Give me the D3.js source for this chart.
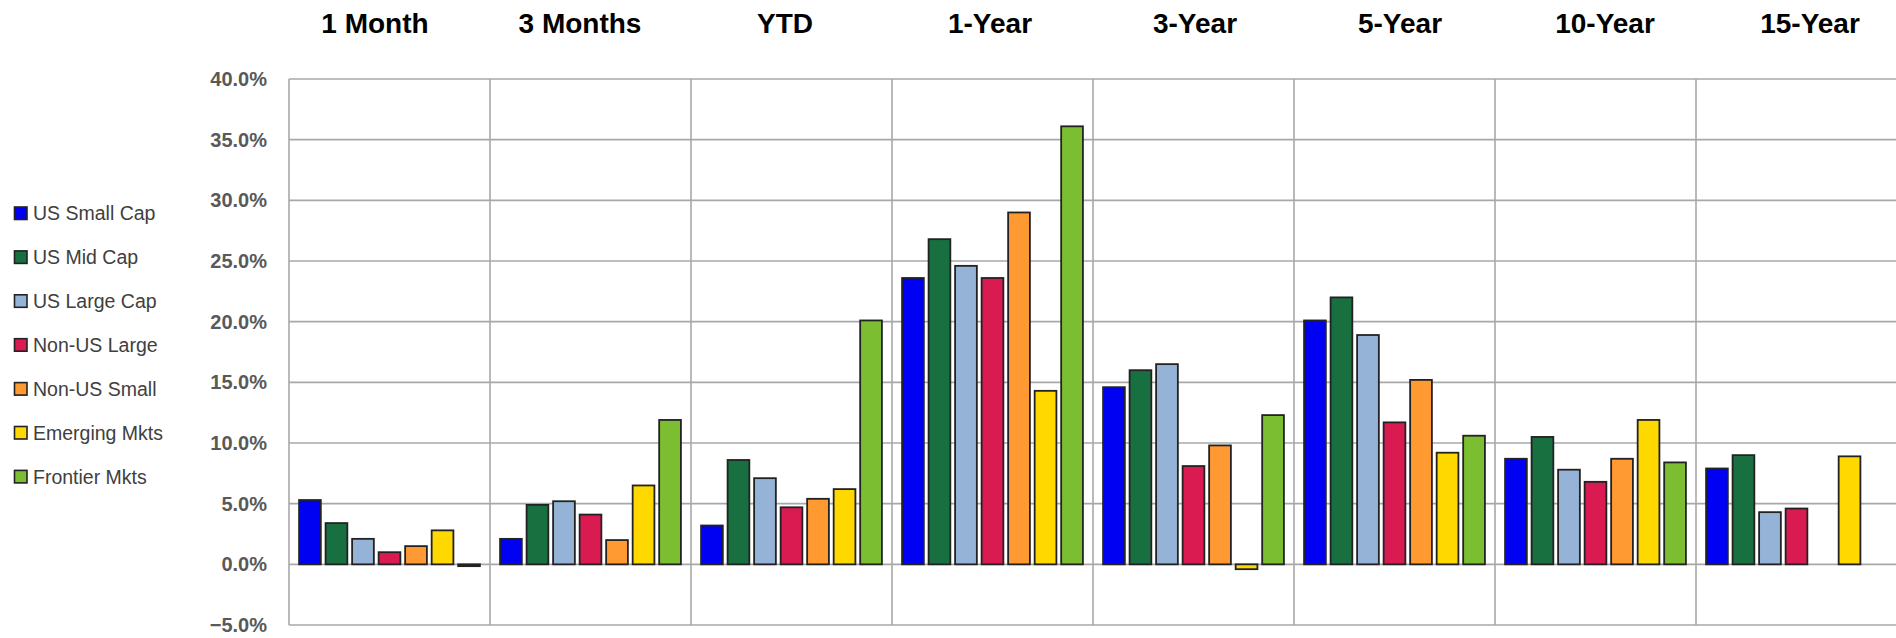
<!DOCTYPE html>
<html>
<head>
<meta charset="utf-8">
<script src="https://cdn.jsdelivr.net/npm/d3@7"></script>
<style>
  html, body { margin: 0; padding: 0; background: #ffffff; }
  svg { display: block; }
</style>
</head>
<body>
<svg id="chart" width="1896" height="638"></svg>
<script>
// ---- data ----
const categories = ["1 Month", "3 Months", "YTD", "1-Year", "3-Year", "5-Year", "10-Year", "15-Year"];
const seriesNames = ["US Small Cap", "US Mid Cap", "US Large Cap", "Non-US Large", "Non-US Small", "Emerging Mkts", "Frontier Mkts"];
const usSmallCap   = [5.3, 2.1, 3.2, 23.6, 14.6, 20.1, 8.7, 7.9];
const usMidCap     = [3.4, 4.9, 8.6, 26.8, 16.0, 22.0, 10.5, 9.0];
const usLargeCap   = [2.1, 5.2, 7.1, 24.6, 16.5, 18.9, 7.8, 4.3];
const nonUSLarge   = [1.0, 4.1, 4.7, 23.6, 8.1, 11.7, 6.8, 4.6];
const nonUSSmall   = [1.5, 2.0, 5.4, 29.0, 9.8, 15.2, 8.7, null];
const emergingMkts = [2.8, 6.5, 6.2, 14.3, -0.4, 9.2, 11.9, 8.9];
const frontierMkts = [-0.15, 11.9, 20.1, 36.1, 12.3, 10.6, 8.4, null];
const yTicks = [-5, 0, 5, 10, 15, 20, 25, 30, 35, 40];
const seriesColors = ["#0000f2", "#186f40", "#95b3d7", "#d91b52", "#ff9a33", "#ffd800", "#7cbe31"];

const seriesValues = [usSmallCap, usMidCap, usLargeCap, nonUSLarge, nonUSSmall, emergingMkts, frontierMkts];

// ---- layout ----
const svg = d3.select("#chart");
const plotLeft = 289, plotRight = 1897, plotTop = 79, plotBottom = 625;

const y = d3.scaleLinear().domain([-5, 40]).range([plotBottom, plotTop]);
const x0 = d3.scaleBand().domain(categories).range([plotLeft, plotRight]).padding(0);
const x1 = d3.scaleBand().domain(seriesNames).range([0, x0.bandwidth()])
  .paddingInner(0.18).paddingOuter(0.38);
const titleX = d3.scaleBand().domain(categories).range([272.5, 272.5 + 205 * categories.length]);

const gridColor = "#a8a8a8";

// horizontal gridlines
svg.append("g").selectAll("line").data(yTicks).join("line")
  .attr("x1", plotLeft).attr("x2", plotRight)
  .attr("y1", d => y(d)).attr("y2", d => y(d))
  .attr("stroke", gridColor).attr("stroke-width", 1.6);

// vertical separators
const seps = categories.map(c => x0(c)).concat([plotRight]);
svg.append("g").selectAll("line").data(seps).join("line")
  .attr("x1", d => d).attr("x2", d => d)
  .attr("y1", plotTop).attr("y2", plotBottom)
  .attr("stroke", gridColor).attr("stroke-width", 1.6);

// y tick labels
svg.append("g").selectAll("text").data(yTicks).join("text")
  .attr("x", 267).attr("y", d => y(d))
  .attr("dy", "0.35em")
  .attr("text-anchor", "end")
  .attr("font-family", "'Liberation Sans', Arial, sans-serif")
  .attr("font-weight", "bold")
  .attr("font-size", 20)
  .attr("fill", "#595959")
  .text(d => d3.format(".1f")(d) + "%");

// category titles
svg.append("g").selectAll("text").data(categories).join("text")
  .attr("x", d => titleX(d) + titleX.bandwidth() / 2)
  .attr("y", 32.5)
  .attr("text-anchor", "middle")
  .attr("font-family", "'Liberation Sans', Arial, sans-serif")
  .attr("font-weight", "bold")
  .attr("font-size", 28)
  .attr("fill", "#000000")
  .text(d => d);

// bars
const barData = [];
seriesValues.forEach((vals, si) => {
  vals.forEach((v, ci) => {
    if (v !== null && v !== undefined) {
      barData.push({ cat: categories[ci], series: seriesNames[si], value: v, color: seriesColors[si] });
    }
  });
});

svg.append("g").selectAll("rect").data(barData).join("rect")
  .attr("x", d => x0(d.cat) + x1(d.series))
  .attr("width", x1.bandwidth())
  .attr("y", d => y(Math.max(0, d.value)))
  .attr("height", d => Math.abs(y(d.value) - y(0)))
  .attr("fill", d => d.color)
  .attr("stroke", "#222222")
  .attr("stroke-width", 1.8);

// legend
const legendStart = 213.5, legendStep = 43.9;
const leg = svg.append("g").selectAll("g").data(seriesNames).join("g")
  .attr("transform", (d, i) => `translate(0, ${legendStart + i * legendStep})`);
leg.append("rect")
  .attr("x", 14.5).attr("y", -6.5).attr("width", 12.5).attr("height", 12.5)
  .attr("fill", (d, i) => seriesColors[i])
  .attr("stroke", "#222222").attr("stroke-width", 1.6);
leg.append("text")
  .attr("x", 33).attr("y", 0).attr("dy", "0.35em")
  .attr("font-family", "'Liberation Sans', Arial, sans-serif")
  .attr("font-size", 19.5)
  .attr("fill", "#404040")
  .text(d => d);
</script>
</body>
</html>
